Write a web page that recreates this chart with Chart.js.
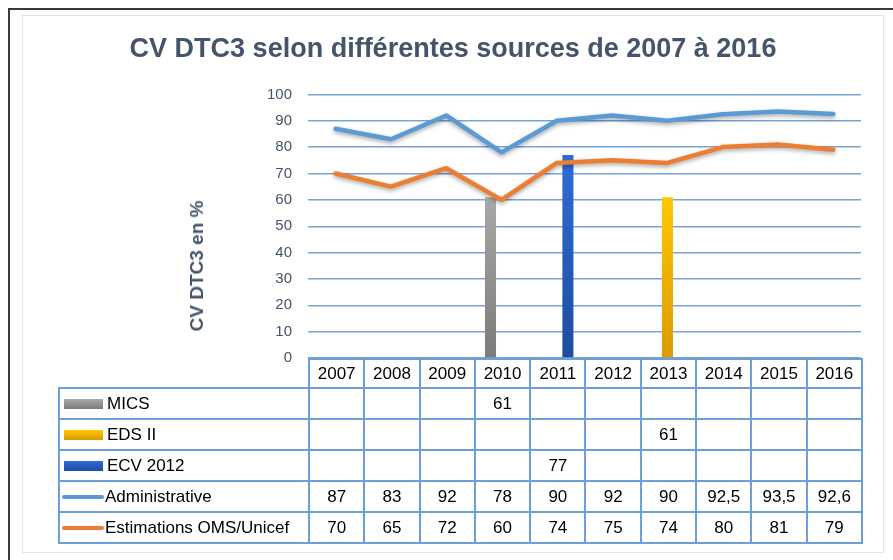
<!DOCTYPE html>
<html lang="fr">
<head>
<meta charset="utf-8">
<script src="https://cdn.jsdelivr.net/npm/chart.js@4.4.1/dist/chart.umd.min.js"></script>
<style>
  body { margin: 0; background: #fff; font-family: 'Liberation Sans', Arial, sans-serif; }
  #page { position: relative; width: 893px; height: 560px; overflow: hidden; }
  #frame { position: absolute; left: 8px; top: 8px; width: 900px; height: 560px; border-top: 2px solid #3a3a3a; border-left: 2px solid #3a3a3a; }
  #panel { position: absolute; left: 22px; top: 15px; width: 860px; height: 536px; border: 1px solid #dfe4ec; }
  #chart { position: absolute; left: 0; top: 0; }
  #ytitle { position: absolute; left: 197px; top: 266px; transform: translate(-50%, -50%) rotate(-90deg);
    font-weight: bold; font-size: 19px; color: #44546a; white-space: nowrap; }
  #datatable { position: absolute; left: 58px; top: 358px; border-collapse: collapse; table-layout: fixed; }
  #datatable td { border: 2px solid #6c9fd9; font-size: 17px; color: #000; text-align: center; padding: 0; height: 29px; }
  #datatable tr.head td { height: 27px; }
  #datatable td.legend { text-align: left; white-space: nowrap; }
  #datatable td.blank { border-top: hidden; border-left: hidden; }
  .sw { display: inline-block; vertical-align: middle; margin: 0 4px 0 4px; }
</style>
</head>
<body>
<div id="page">
  <div id="frame"></div>
  <div id="panel"></div>
  <canvas id="chart" width="893" height="560"></canvas>
  <div id="ytitle">CV DTC3 en %</div>
  <table id="datatable"></table>
</div>
<script>
const years = ['2007', '2008', '2009', '2010', '2011', '2012', '2013', '2014', '2015', '2016'];
const mics = [null, null, null, 61, null, null, null, null, null, null];
const edsII = [null, null, null, null, null, null, 61, null, null, null];
const ecv2012 = [null, null, null, null, 77, null, null, null, null, null];
const administrative = [87, 83, 92, 78, 90, 92, 90, 92.5, 93.5, 92.6];
const omsUnicef = [70, 65, 72, 60, 74, 75, 74, 80, 81, 79];

const slate = '#44546a';

// gradient from the top of each bar down to the axis
function barFill(top, bottom) {
  return (c) => {
    const chart = c.chart;
    const area = chart.chartArea;
    if (!area || !c.parsed || c.parsed.y == null) return top;
    const y0 = chart.scales.y.getPixelForValue(c.parsed.y);
    const g = chart.ctx.createLinearGradient(0, y0, 0, area.bottom);
    g.addColorStop(0, top);
    g.addColorStop(1, bottom);
    return g;
  };
}

const lineShadow = {
  id: 'lineShadow',
  beforeDatasetDraw(chart, args) {
    if (args.meta.type !== 'line') return;
    const ctx = chart.ctx;
    ctx.save();
    ctx.shadowColor = 'rgba(0,0,0,0.35)';
    ctx.shadowBlur = 4;
    ctx.shadowOffsetY = 2;
  },
  afterDatasetDraw(chart, args) {
    if (args.meta.type !== 'line') return;
    chart.ctx.restore();
  }
};

const series = [
  { label: 'MICS', type: 'bar', data: mics, top: '#a8a8a8', bottom: '#7b7b7b' },
  { label: 'EDS II', type: 'bar', data: edsII, top: '#ffc700', bottom: '#d99b00' },
  { label: 'ECV 2012', type: 'bar', data: ecv2012, top: '#2f6bd8', bottom: '#1f4d9c' },
  { label: 'Administrative', type: 'line', data: administrative, color: '#5b9bd5' },
  { label: 'Estimations OMS/Unicef', type: 'line', data: omsUnicef, color: '#ed7d31' }
];

const datasets = series.map(s => {
  if (s.type === 'bar') {
    return {
      type: 'bar', label: s.label, data: s.data, order: 2,
      backgroundColor: barFill(s.top, s.bottom),
      categoryPercentage: 0.6, barPercentage: 1
    };
  }
  return {
    type: 'line', label: s.label, data: s.data, order: 1,
    borderColor: s.color, backgroundColor: s.color, borderWidth: 4.5,
    pointRadius: 0, tension: 0, fill: false, borderJoinStyle: 'round', borderCapStyle: 'round'
  };
});

const chart = new Chart(document.getElementById('chart'), {
  type: 'bar',
  data: { labels: years, datasets },
  plugins: [lineShadow],
  options: {
    responsive: false,
    animation: false,
    layout: { padding: { left: 45, right: 32, top: 5, bottom: 202 } },
    plugins: {
      legend: { display: false },
      tooltip: { enabled: false },
      title: {
        display: true,
        text: 'CV DTC3 selon différentes sources de 2007 à 2016',
        color: slate,
        font: { family: 'Liberation Sans', size: 27, weight: 'bold' },
        padding: { top: 28, bottom: 29 }
      }
    },
    scales: {
      x: { display: false },
      y: {
        min: 0, max: 100,
        ticks: { stepSize: 10, color: slate, padding: 16, font: { family: 'Liberation Sans', size: 15 } },
        grid: { color: '#77a3da', lineWidth: 1.4, drawTicks: false },
        border: { display: false },
        afterFit(s) { s.width = 263; }
      }
    }
  }
});

// data table under the plot, aligned with the category columns
function buildTable() {
  const area = chart.chartArea;
  const table = document.getElementById('datatable');
  const firstW = area.left - 58;
  const colW = (area.right - area.left) / years.length;
  let html = '<colgroup><col style="width:' + firstW + 'px">';
  years.forEach(() => { html += '<col style="width:' + colW + 'px">'; });
  html += '</colgroup>';
  html += '<tr class="head"><td class="blank"></td>' + years.map(y => '<td>' + y + '</td>').join('') + '</tr>';
  series.forEach(s => {
    let swatch;
    if (s.type === 'bar') {
      swatch = '<span class="sw" style="width:39px;height:10px;background:linear-gradient(' + s.top + ',' + s.bottom + ')"></span>';
    } else {
      swatch = '<span class="sw" style="width:42px;height:4px;border-radius:2px;margin:0 1px 0 2px;background:' + s.color + '"></span>';
    }
    html += '<tr><td class="legend">' + swatch + s.label + '</td>';
    s.data.forEach(v => {
      html += '<td>' + (v == null ? '' : String(v).replace('.', ',')) + '</td>';
    });
    html += '</tr>';
  });
  table.innerHTML = html;
  table.style.width = (area.right - 58) + 'px';
}
buildTable();
</script>
</body>
</html>
